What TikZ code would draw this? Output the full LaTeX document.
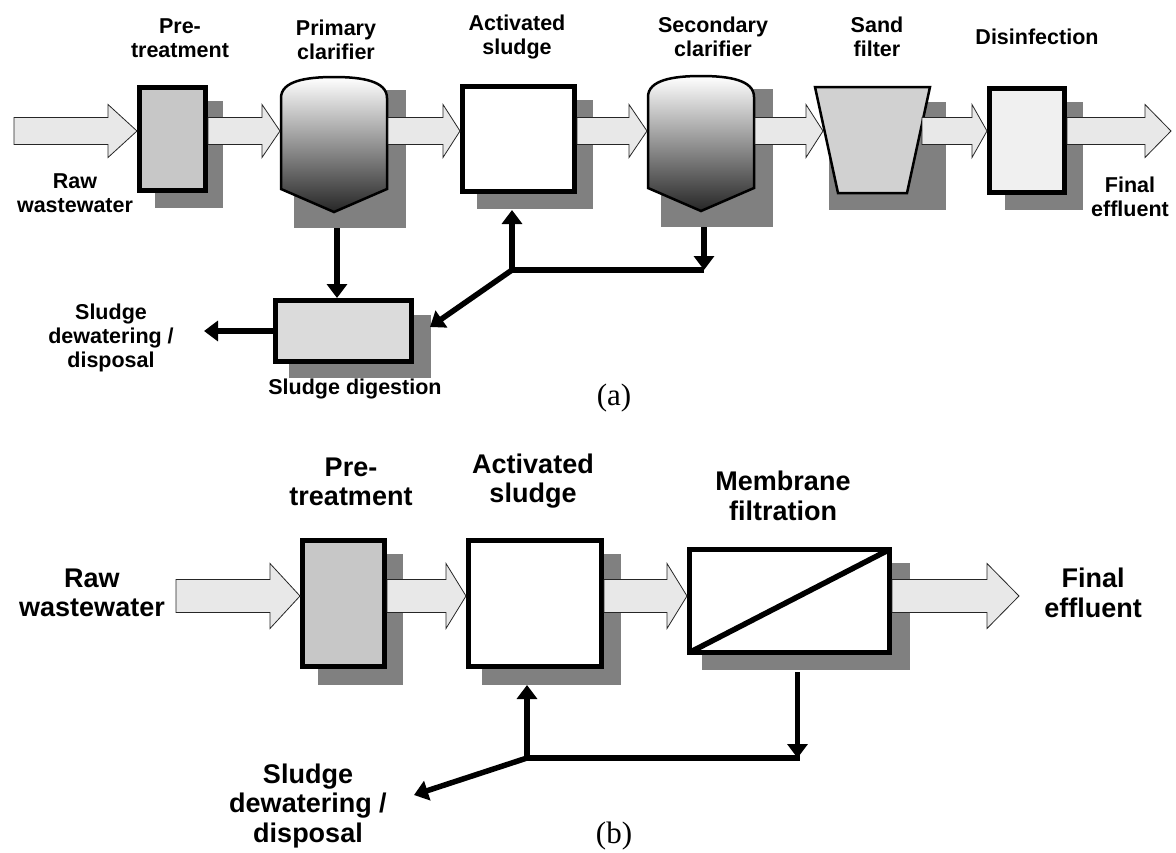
\documentclass[tikz,border=0pt]{standalone}
\usepackage{fontspec}
\setmainfont{Liberation Sans}
\newfontfamily\capfont{Liberation Serif}
\usetikzlibrary{arrows.meta,calc,shadows}

\tikzset{
  unit/.style={draw, line width=5pt, inner sep=0pt,
    drop shadow={shadow xshift=16pt, shadow yshift=-15pt, shadow scale=1.04,
      fill=black!50, opacity=1}},
  flow/.style={draw=black!85, line width=0.8pt, fill=black!9},
  pipe/.style={line width=5.5pt},
  pipe arrow/.style={pipe, -{Triangle[length=14pt,width=20pt]}},
  txt/.style={font=\bfseries\fontsize{21.5}{24}\selectfont, align=center, inner sep=0pt},
  txtb/.style={font=\bfseries\fontsize{27}{29.5}\selectfont, align=center, inner sep=0pt},
  tag/.style={font=\capfont\fontsize{31}{33}\selectfont, inner sep=0pt},
  clarifier/.pic={
    % shadow
    \fill[black!50] (-40,-55) rectangle (72,83);
    % the tank
    \draw[line width=2.5pt, top color=white, middle color=black!40, bottom color=black!85]
      (-53,-47) .. controls (-53,-64) and (-28,-68) .. (0,-68)
      .. controls (28,-68) and (53,-64) .. (53,-47)
      -- (53,44) -- (0,67) -- (-53,44) -- cycle;
    \coordinate (-w) at (-54,-14);
    \coordinate (-e) at (54,-14);
    \coordinate (-out) at (3,83);
  }
}

% block arrow: from, to, head length, body half width, head half width
\newcommand{\flowarrow}[5]{%
  \draw[flow] let \p1=(#1), \p2=(#2) in
    (\x1,\y1+#4pt) -- (\x2-#3pt,\y1+#4pt) -- (\x2-#3pt,\y1+#5pt) -- (\x2,\y1)
    -- (\x2-#3pt,\y1-#5pt) -- (\x2-#3pt,\y1-#4pt) -- (\x1,\y1-#4pt) -- cycle;}

\begin{document}
\begin{tikzpicture}[x=1pt, y=-1pt]
    \useasboundingbox (0,0) rectangle (1176,852);
    \coordinate (rowA) at (0,131);
    \coordinate (rowB) at (0,596);

    % ---------- (a) conventional treatment ----------
    \node[unit, fill=black!22, minimum width=66pt, minimum height=103pt] (preA) at (172.5,139) {};
    \pic (pcA) at (334,145) {clarifier};
    \node[unit, fill=white, minimum width=112pt, minimum height=105pt] (actA) at (518.5,139) {};
    \pic (scA) at (701,144) {clarifier};

    % sand filter
    \fill[black!50] (829,102) rectangle (946,210);
    \draw[line width=2.5pt, fill=black!18] (815,87) -- (930,87) -- (907,193) -- (838,193) -- cycle;
    \coordinate (sfA-w) at (823,131);
    \coordinate (sfA-e) at (922,131);

    \node[unit, fill=black!6, minimum width=75pt, minimum height=104pt] (disA) at (1027,140.5) {};
    \node[unit, fill=black!14, minimum width=136pt, minimum height=61pt] (sdA) at (343.5,331) {};

    % water line
    \coordinate (inA) at (14,131);
    \coordinate (outA) at (1171,131);
    \flowarrow{inA}{preA.west |- rowA}{29}{13.5}{26.5}
    \flowarrow{preA.east |- rowA}{pcA-w}{18}{13.5}{26.5}
    \flowarrow{pcA-e}{actA.west |- rowA}{17}{13.5}{26.5}
    \flowarrow{actA.east |- rowA}{scA-w}{18}{13.5}{26.5}
    \flowarrow{scA-e |- rowA}{sfA-w}{17}{13.5}{26.5}
    \flowarrow{sfA-e}{disA.west |- rowA}{15}{13.5}{26.5}
    \flowarrow{disA.east |- rowA}{outA}{26}{13.5}{26.5}

    % sludge line
    \coordinate (J) at (512,270);
    \coordinate (dispA) at (204,331);
    \draw[pipe arrow] (pcA-out) -- (pcA-out |- sdA.north);
    \draw[pipe arrow] (scA-out) -- (scA-out |- J);
    \draw[pipe arrow] (scA-out |- J) -- (J) -- ($(J |- actA.south)+(0,16)$);
    \draw[pipe arrow] (J) -- ($(sdA.east)+(16,-4)$);
    \draw[pipe arrow] (sdA.west) -- (dispA);

    % labels
    \node[txt] (tPreA) at (180,38) {Pre-\\treatment};
    \node[txt] (tPcA) at (336,40) {Primary\\clarifier};
    \node[txt] (tActA) at (517,37) {Activated\\sludge};
    \node[txt] (tScA) at (713,37) {Secondary\\clarifier};
    \node[txt] (tSfA) at (877,37) {Sand\\filter};
    \node[txt] (tDisA) at (1037,37) {Disinfection};
    \node[txt] (tInA) at (75,193) {Raw\\wastewater};
    \node[txt] (tOutA) at (1130,197) {Final\\effluent};
    \node[txt] (tDispA) at (111,338) {Sludge\\dewatering /\\disposal};
    \node[txt] (tSdA) at (355,389) {Sludge digestion};
    \node[tag] (capA) at (614,398) {(a)};

    % ---------- (b) membrane bioreactor ----------
    \node[unit, fill=black!22, minimum width=82pt, minimum height=126pt] (preB) at (343.5,603.5) {};
    \node[unit, fill=white, minimum width=133pt, minimum height=126pt] (actB) at (535,603.5) {};
    \node[unit, fill=white, minimum width=200pt, minimum height=103pt] (memB) at (789.5,601) {};
    \draw[pipe] ([shift={(2.5,-2.5)}]memB.south west) -- ([shift={(-2.5,2.5)}]memB.north east);

    % water line
    \coordinate (inB) at (176,596);
    \coordinate (outB) at (1019,596);
    \flowarrow{inB}{preB.west |- rowB}{30}{16.5}{32.5}
    \flowarrow{preB.east |- rowB}{actB.west |- rowB}{20}{16.5}{32.5}
    \flowarrow{actB.east |- rowB}{memB.west |- rowB}{20}{16.5}{32.5}
    \flowarrow{memB.east |- rowB}{outB}{32}{16.5}{32.5}

    % sludge line
    \coordinate (JB) at (527,758);
    \coordinate (dispB) at (414,795);
    \coordinate (memB-out) at ($(memB.south)+(8,17)$);
    \draw[pipe arrow] (memB-out) -- (memB-out |- JB);
    \draw[pipe arrow] ($(memB-out |- JB)+(2,0)$) -- (JB) -- ($(JB |- actB.south)+(0,16)$);
    \draw[pipe arrow] (JB) -- (dispB);

    % labels
    \node[txtb] (tInB) at (92,593) {Raw\\wastewater};
    \node[txtb] (tPreB) at (351,482) {Pre-\\treatment};
    \node[txtb] (tActB) at (533,481) {Activated\\sludge};
    \node[txtb] (tMemB) at (783,496) {Membrane\\filtration};
    \node[txtb] (tOutB) at (1093,593) {Final\\effluent};
    \node[txtb] (tDispB) at (308,806) {Sludge\\dewatering /\\disposal};
    \node[tag] (capB) at (614,836) {(b)};
\end{tikzpicture}
\end{document}
